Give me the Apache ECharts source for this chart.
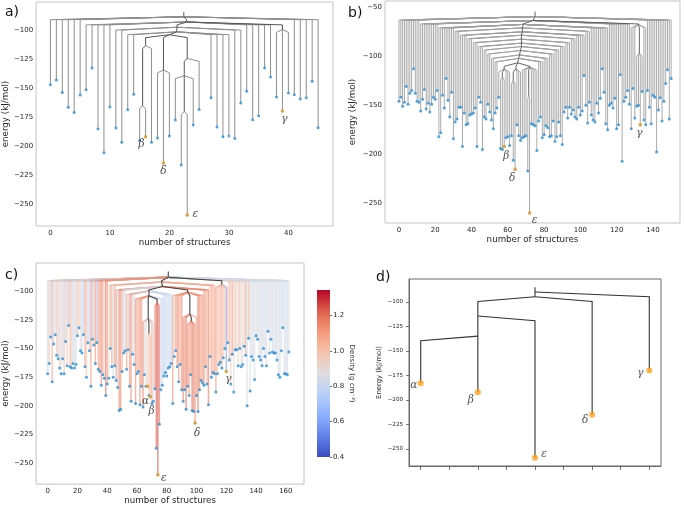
<!DOCTYPE html>
<html><head><meta charset="utf-8">
<script src="https://cdn.jsdelivr.net/npm/echarts@6/dist/echarts.min.js"></script>
<style>html,body{margin:0;padding:0;background:#fff}#c{width:685px;height:506px}</style>
</head><body><div id="c"></div>
<script>
// ================= DATA =================
// Panel a
const aX = [0,1,2,3,4,5,6,7,8,9,10,11,12,13,14,15,16,17,18,19,20,21,22,23,24,25,27,28,29,30,31,32,33,34,35,36,37,38,39,40,41,42,43,44,45];
const aE = [-146.7,-142.7,-153.4,-166.3,-170.7,-155.7,-151.1,-132.3,-185.1,-205.6,-166.1,-184.2,-196.6,-168.4,-155.1,-195,-191.7,-196.6,-192.9,-214.5,-191.1,-177.3,-216.2,-259.5,-181.6,-168.1,
  -158,-183.4,-191.7,-191.1,-193.2,-162.6,-152.5,-177,-173.6,-132.3,-140.1,-157.4,-169.5,-153.9,-155.4,-159.1,-158,-143.8,-183.9];
const aNodeLevel = [-88,-92.5,-96,-99,-97,-101,-103.5,-113,-165,-134,-124,-139,-170];
const aNodeParent = [-1,0,1,2,1,4,5,6,7,6,6,10,11];
const aGroups = [[0,0,5],[0,41,45],[1,6,10],[1,33,37],[2,39,39],[3,38,38],[3,40,40],[4,11,12],[4,31,32],[5,13,14],[5,27,30],[7,17,17],[8,15,16],[9,18,20],[10,25,25],[11,21,21],[11,24,24],[12,22,23]];
const aSpecialX = [16,19,23,39];
const aSpecialName = ['β','δ','ε','γ'];
const aXTicks = [0,10,20,30,40];
const aYTicks = [-250,-225,-200,-175,-150,-125,-100];

// Panel b
const bE = [-146,-142,-151,-147,-131,-149,-138,-135,-113,-138,
  -146,-147,-156,-144,-134,-154,-148,-157,-149,-142,
  -144,-135,-182,-178,-140,-153,-123,-145,-162,-137,
  -184,-167,-164,-152,-152,-192,-158,-170,-169,-160,
  -159,-158,-153,-192,-142,-147,-195,-162,-164,-149,
  -157,-165,-174,-158,-153,-142,-194,-195,-192,-183,
  -182,-191,-181,-206,-215,-170,-181,-186,-183,-182,
  -181,-217,-259.5,-169,-170,-171,-196,-166,-162,-183,
  -180,-171,-173,-182,-181,-166,-187,-182,-167,-181,
  -190,-157,-152,-163,-152,-159,-155,-162,-164,-152,
  -160,-156,-120,-150,-168,-147,-160,-165,-167,-148,
  -158,-143,-113,-137,-169,-175,-150,-148,-153,-143,
  -174,-170,-119,-207,-146,-142,-135,-149,-174,-133,
  -163,-151,-150,-170,-136,-165,-170,-135,-152,-169,
  -140,-142,-197.5,-155,-142.5,-166,-146,-128,-114,-164,-123];
const bNodeLevel = [-60,-64,-68,-97,-68,-71.5,-75.5,-79,-83,-87,-90.5,-94.5,-99,-102.5,-107,-113,-121,-113,-125,-111,-140];
const bNodeParent = [-1,0,1,2,1,4,5,6,7,8,9,10,11,12,13,14,15,14,17,14,19];
const bGroups = [[0,0,11],[0,137,150],[1,12,21],[1,116,127],[2,128,130],[2,135,136],[3,131,134],[4,22,30],[4,106,115],[5,31,33],[5,103,105],[6,34,37],[6,98,102],[7,38,40],[7,95,97],[8,41,43],[8,92,94],[9,44,46],[9,89,91],[10,47,48],[10,86,88],[11,49,50],[11,83,85],[12,51,52],[12,80,82],[13,53,54],[13,77,79],[15,55,55],[15,59,61],[16,56,58],[17,65,67],[18,62,64],[19,68,70],[19,73,76],[20,71,72]];
const bSpecialX = [58,64,72,133];
const bSpecialName = ['β','δ','ε','γ'];
const bXTicks = [0,20,40,60,80,100,120,140];
const bYTicks = [-250,-200,-150,-100,-50];

// Panel c
const cE = [-172,-163,-140,-179,-146,-138,-156,-159,-167,-172,
  -159,-172,-144,-165,-130,-166,-167,-163,-167,-164,
  -139,-132,-152,-154,-138,-166,-175,-145,-152,-183,
  -142,-147,-163,-145,-168,-170,-182,-173,-176,-191,
  -181,-176,-150,-166,-175,-165,-178,-184,-204,-203,
  -170,-154,-152,-168,-151,-183,-196,-155,-164,-198,
  -172,-170,-199,-183,-201,-173,-183,-183,-191,-192,
  -198,-196,-185,-237,-260,-216,-186,-182,-174,-171,
  -174,-167,-166,-163,-198,-157,-152,-166,-179,-164,
  -186,-196,-186,-203,-183,-191,-173,-204,-205,-215,
  -191,-205,-186,-178,-180,-182,-166,-181,-199,-157,
  -175,-171,-172,-188,-172,-164,-162,-167,-158,-150,
  -170,-145,-160,-181,-155,-188,-151,-151,-165,-150,
  -166,-164,-148,-156,-200,-141,-187,-157,-160,-177,
  -139,-142,-157,-160,-165,-150,-157,-165,-135,-154,
  -142,-153,-154,-154,-160,-173,-175,-152,-132,-172,
  -172,-173,-153];
const cDensity = [0.78,1.0,0.82,1.08,0.8,0.9,1.02,0.8,1.0,0.88,
  0.8,1.02,0.78,1.0,0.72,1.05,1.0,0.8,0.9,0.78,
  1.02,1.0,0.9,0.8,0.78,1.1,1.02,0.8,0.82,1.12,
  0.7,1.0,1.12,0.7,1.1,1.12,1.15,1.1,0.9,1.2,
  1.1,0.88,1.05,1.08,0.85,1.1,1.12,0.8,1.15,1.15,
  1.05,0.82,0.85,1.1,0.8,1.12,1.15,0.9,0.82,1.15,
  1.1,1.05,1.15,1.12,1.18,0.85,0.9,0.95,1.0,1.05,
  1.1,0.85,1.15,1.25,1.25,1.2,0.82,0.8,0.75,0.8,
  0.82,0.85,0.78,0.8,1.12,0.9,1.1,1.15,1.12,1.05,
  1.15,1.18,1.12,1.2,1.15,1.12,1.1,1.2,1.18,1.15,
  1.12,1.2,1.15,1.1,1.12,1.15,1.1,1.05,1.18,1.0,
  1.1,1.05,1.08,1.12,1.02,1.0,1.05,1.08,0.98,1.0,
  0.58,1.0,1.05,0.95,1.1,0.92,1.0,0.9,0.95,1.02,
  0.9,0.88,0.95,1.1,0.85,1.05,0.85,0.88,0.82,0.85,
  0.88,0.82,0.9,0.85,0.8,0.88,0.83,0.85,0.8,0.88,
  0.85,0.82,0.88,0.8,0.85,0.88,0.82,0.85,0.8,0.84,
  0.86,0.82,0.85];
const cNodeLevel = [-88,-94,-92,-96,-101,-120,-126,-100,-104,-124,-137,-110];
const cNodeParent = [-1,0,0,2,3,4,5,3,7,8,9,8];
const cGroups = [[0,0,40],[0,122,162],[1,113,121],[2,41,45],[2,109,112],[3,46,52],[3,105,108],[4,84,90],[4,101,104],[5,91,93],[5,100,100],[6,94,99],[7,53,58],[7,78,83],[8,59,63],[8,76,77],[9,64,66],[9,70,71],[10,67,69],[11,72,75]];
const cSpecialX = [67,69,74,99,120];
const cSpecialName = ['α','β','ε','δ','γ'];
const cXTicks = [0,20,40,60,80,100,120,140,160];
const cYTicks = [-250,-225,-200,-175,-150,-125,-100];
const cbTicks = [0.4,0.6,0.8,1.0,1.2];
const cbMin = 0.4, cbMax = 1.345;

// Panel d
const dX = [0,2,4,6,8];
const dE = [-183,-192,-259,-215,-170];
const dName = ['α','β','ε','δ','γ'];
const dNodeLevel = [-89.8,-94.6,-114.3,-134.8];
const dNodeParent = [-1,0,1,2];
const dNodeX = [4,4,2,2];
const dGroups = [[3,0,0],[3,2,2],[2,4,4],[1,6,6],[0,8,8]];
const dXTicks = [0,1,2,3,4,5,6,7,8];
const dYTicks = [-250,-225,-200,-175,-150,-125,-100];

// ================= BUILD =================
function buildTree(X, E, lev, par, groups, step, stem, fixedX) {
  const leafPar = X.map(x => { for (const g of groups) if (x >= g[1] && x <= g[2]) return g[0]; return 0; });
  const sum = lev.map(() => 0), cnt = lev.map(() => 0);
  X.forEach((x, i) => { let n = leafPar[i]; while (n >= 0) { sum[n] += x; cnt[n]++; n = par[n]; } });
  const nx = lev.map((_, n) => fixedX ? fixedX[n] : sum[n] / cnt[n]);
  const inner = [], leaf = [];
  lev.forEach((L, n) => {
    if (par[n] < 0) inner.push([[nx[n], L + stem], [nx[n], L]]);
    else { const p = par[n]; inner.push([[nx[p], lev[p]], [nx[n], lev[p] - step], [nx[n], L]]); }
  });
  X.forEach((x, i) => { const p = leafPar[i]; leaf.push([[nx[p], lev[p]], [x, lev[p] - step], [x, E[i]]]); });
  return {inner, leaf};
}
const idx = n => Array.from({length: n}, (_, i) => i);
const bX = idx(bE.length), cX = idx(cE.length);

const ta = buildTree(aX, aE, aNodeLevel, aNodeParent, aGroups, 2.5, 4, null);
const tb = buildTree(bX, bE, bNodeLevel, bNodeParent, bGroups, 3.5, 5, null);
const tc = buildTree(cX, cE, cNodeLevel, cNodeParent, cGroups, 3, 5, null);
const td = buildTree(dX, dE, dNodeLevel, dNodeParent, dGroups, 4.8, 4.8, dNodeX);

// coolwarm colormap
const CW = [[0,[59,76,192]],[0.125,[98,130,234]],[0.25,[141,176,254]],[0.375,[184,208,249]],[0.5,[221,221,221]],[0.625,[245,196,173]],[0.75,[244,154,123]],[0.875,[222,96,77]],[1,[180,4,38]]];
function coolwarm(t) {
  t = Math.max(0, Math.min(1, t));
  for (let i = 1; i < CW.length; i++) {
    if (t <= CW[i][0]) {
      const a = CW[i-1], b = CW[i], f = (t - a[0]) / (b[0] - a[0]);
      const c = a[1].map((v, k) => Math.round(v + (b[1][k] - v) * f));
      return 'rgb(' + c.join(',') + ')';
    }
  }
  return 'rgb(180,4,38)';
}

// ================= STYLE =================
const FONT = 'DejaVu Sans';
const minusFmt = v => (v < 0 ? '\u2212' : '') + Math.abs(v);
const TXT = '#262626';
const labelOffset = {
  a: {'β':[-4,8],'δ':[0,8],'ε':[8,-1],'γ':[2,8]},
  b: {'β':[2,10],'δ':[-3,9],'ε':[5,7],'γ':[-1,8]},
  c: {'α':[-2,15],'β':[1,15],'ε':[6,4],'δ':[2,10],'γ':[2,8]},
  d: {'α':[-7,2],'β':[-7,8],'ε':[9,-4],'δ':[-7,6],'γ':[-9,3]}
};

const grids = [
  {left:33, top:2, width:300, height:224},
  {left:385, top:1, width:295, height:222},
  {left:34, top:263, width:270, height:222},
  {left:409, top:279, width:252, height:187},
  {left:317, top:290, width:13, height:167}
].map((g, i) => Object.assign(g, {show: i < 4, borderColor: i === 3 ? '#6a6a6a' : '#c4c4c4', borderWidth: 1, containLabel: false}));

function xAx(gi, min, max, ticks, opts) {
  return Object.assign({
    type:'value', gridIndex:gi, min, max,
    axisLine:{show:false, onZero:false}, splitLine:{show:false},
    axisTick:{show:false},
    axisLabel:{customValues:ticks, formatter:minusFmt, fontFamily:FONT, fontSize:7, color:TXT, margin:4},
    name:'number of structures', nameLocation:'middle', nameGap:11,
    nameTextStyle:{fontFamily:FONT, fontSize:8.7, color:TXT}
  }, opts || {});
}
function yAx(gi, min, max, ticks, gap, opts) {
  return Object.assign({
    type:'value', gridIndex:gi, min, max,
    axisLine:{show:false, onZero:false}, splitLine:{show:false},
    axisTick:{show:false},
    axisLabel:{customValues:ticks, formatter:minusFmt, fontFamily:FONT, fontSize:7, color:TXT, margin:3},
    name:'energy (kJ/mol)', nameLocation:'middle', nameGap:gap, nameRotate:90,
    nameTextStyle:{fontFamily:FONT, fontSize:8.7, color:TXT}
  }, opts || {});
}

const xAxis = [
  xAx(0, -2.4, 47.5, aXTicks),
  xAx(1, -7.7, 154.9, bXTicks, {nameGap:12}),
  xAx(2, -7.8, 172.2, cXTicks, {nameGap:11}),
  xAx(3, -0.41, 8.41, dXTicks, {name:'', axisLabel:{show:false},
    axisLine:{show:true, onZero:false, lineStyle:{color:'#6a6a6a', width:1}},
    axisTick:{show:true, inside:false, customValues:dXTicks, length:4, lineStyle:{color:'#555', width:0.8}}}),
  {type:'value', gridIndex:4, show:false, min:0, max:1, axisLine:{onZero:false}}
];
const yAxis = [
  yAx(0, -269, -75.2, aYTicks, 22),
  yAx(1, -269.7, -44.2, bYTicks, 28),
  yAx(2, -268.2, -75.5, cYTicks, 24),
  yAx(3, -267.4, -76.5, dYTicks, 26, {
    name:'Energy (kJ/mol)', nameTextStyle:{fontFamily:FONT, fontSize:6.9, color:TXT},
    axisLine:{show:true, onZero:false, lineStyle:{color:'#6a6a6a', width:1}},
    axisLabel:{customValues:dYTicks, formatter:minusFmt, fontFamily:FONT, fontSize:5.6, color:TXT, margin:6},
    axisTick:{show:true, inside:false, customValues:dYTicks, length:3, lineStyle:{color:'#555', width:0.8}}
  }),
  {type:'value', gridIndex:4, min:cbMin, max:cbMax, position:'right',
   axisLine:{show:false, onZero:false}, splitLine:{show:false},
   axisTick:{show:true, customValues:cbTicks, length:2, lineStyle:{color:'#444', width:0.8}},
   axisLabel:{customValues:cbTicks, formatter:v => v.toFixed(1), fontFamily:FONT, fontSize:7, color:TXT, margin:3},
   name:'Density (g cm\u207B\u00B3)', nameLocation:'middle', nameRotate:-90, nameGap:16,
   nameTextStyle:{fontFamily:FONT, fontSize:7, color:TXT}}
];

function edgeSeries(gi, segs, styleFn, z) {
  return {type:'lines', coordinateSystem:'cartesian2d', xAxisIndex:gi, yAxisIndex:gi, polyline:true, silent:true, z,
    lineStyle:{curveness:0, opacity:1},
    data: segs.map((c, i) => ({coords:c, lineStyle:styleFn(i)}))};
}
function dotSeries(gi, X, E, size, color) {
  return {type:'scatter', xAxisIndex:gi, yAxisIndex:gi, silent:true, z:5, symbol:'circle', symbolSize:size,
    itemStyle:{color}, data: X.map((x, i) => [x, E[i]])};
}
function specialSeries(gi, X, E, sx, names, size, key) {
  return {type:'scatter', xAxisIndex:gi, yAxisIndex:gi, silent:true, z:6, symbol:'circle', symbolSize:size,
    itemStyle:{color:'#ffa31a'},
    data: sx.map((x, k) => {
      const i = X.indexOf(x);
      return {value:[x, E[i]], label:{show:true, formatter:names[k], position:'inside', offset:labelOffset[key][names[k]],
        fontFamily:'DejaVu Serif', fontStyle:'italic', fontSize:10.5, color:'#222'}};
    })};
}

const series = [
  edgeSeries(0, ta.leaf, () => ({color:'#8f8f8f', width:1, opacity:1}), 2),
  edgeSeries(0, ta.inner, () => ({color:'#555', width:1, opacity:1}), 3),
  dotSeries(0, aX, aE, 3, '#2b8fd6'),
  specialSeries(0, aX, aE, aSpecialX, aSpecialName, 3.5, 'a'),

  edgeSeries(1, tb.leaf, () => ({color:'#a0a0a0', width:0.9, opacity:1}), 2),
  edgeSeries(1, tb.inner, () => ({color:'#555', width:0.9, opacity:1}), 3),
  dotSeries(1, bX, bE, 3, '#2b8fd6'),
  specialSeries(1, bX, bE, bSpecialX, bSpecialName, 3.5, 'b'),

  edgeSeries(2, tc.leaf, i => ({color:coolwarm((cDensity[i] - cbMin) / (cbMax - cbMin)), width:1.5, opacity:0.6}), 2),
  edgeSeries(2, tc.inner, () => ({color:'#444', width:1.1, opacity:1}), 3),
  dotSeries(2, cX, cE, 3, '#2b8fd6'),
  specialSeries(2, cX, cE, cSpecialX, cSpecialName, 3.5, 'c'),

  edgeSeries(3, td.leaf, () => ({color:'#333', width:1.1, opacity:1}), 2),
  edgeSeries(3, td.inner, () => ({color:'#333', width:1.1, opacity:1}), 3),
  specialSeries(3, dX, dE, dX, dName, 6, 'd')
];

const stops = [];
for (let k = 0; k <= 20; k++) stops.push({offset:k / 20, color:coolwarm(1 - k / 20)});

const panelText = (t, x, y) => ({type:'text', left:x, top:y, silent:true,
  style:{text:t, font:'14px "DejaVu Sans"', fill:'#111'}});

const chart = echarts.init(document.getElementById('c'), null, {renderer:'canvas'});
chart.setOption({
  animation:false,
  backgroundColor:'#fff',
  grid:grids, xAxis, yAxis, series,
  graphic:[
    panelText('a)', 5, 5), panelText('b)', 348, 6), panelText('c)', 5, 268), panelText('d)', 376, 270),
    {type:'rect', silent:true, z:10, shape:{x:317, y:290, width:13, height:167},
     style:{fill:new echarts.graphic.LinearGradient(0, 0, 0, 1, stops)}}
  ]
});
</script></body></html>
